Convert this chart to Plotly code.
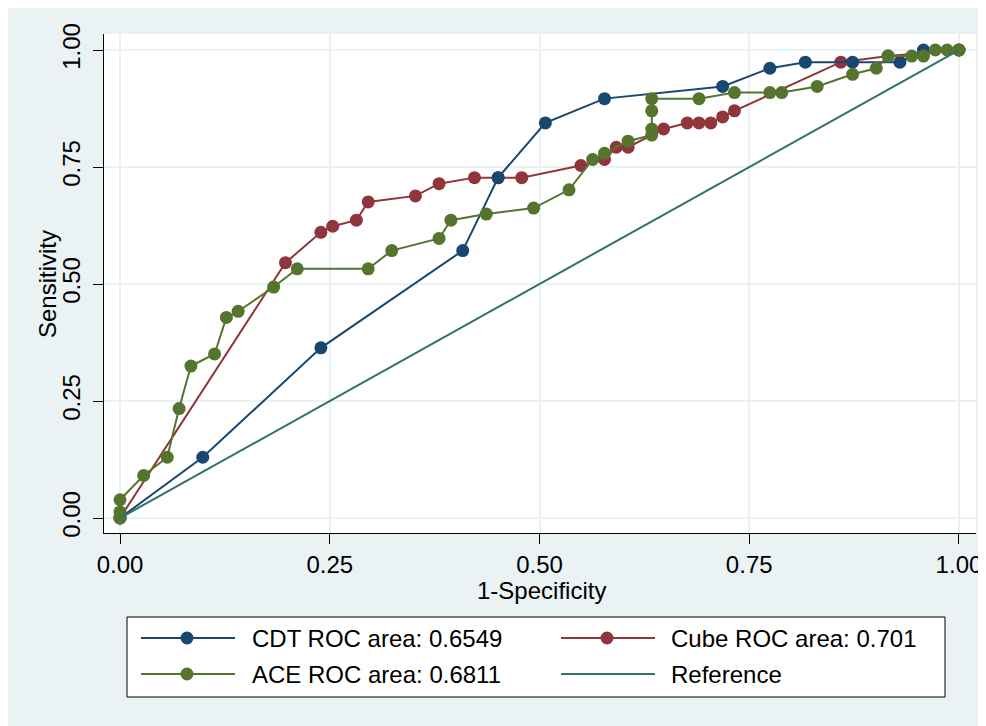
import plotly.graph_objects as go

# ---- data ----
cdt_x = [0, 0.0986, 0.2394, 0.4085, 0.4507, 0.5070, 0.5775, 0.7183, 0.7746, 0.8169, 0.8732, 0.9296, 0.9577, 1]
cdt_y = [0, 0.1299, 0.3636, 0.5714, 0.7273, 0.8442, 0.8961, 0.9221, 0.9610, 0.9740, 0.9740, 0.9740, 1.0, 1]

cube_x = [0, 0.1972, 0.2394, 0.2535, 0.2817, 0.2958, 0.3521, 0.3803, 0.4225, 0.4507, 0.4789, 0.5493,
          0.5775, 0.5915, 0.6056, 0.6479, 0.6761, 0.6901, 0.7042, 0.7183, 0.7324, 0.8592, 0.9155, 1]
cube_y = [0, 0.5455, 0.6104, 0.6234, 0.6364, 0.6753, 0.6883, 0.7143, 0.7273, 0.7273, 0.7273, 0.7532,
          0.7662, 0.7922, 0.7922, 0.8312, 0.8442, 0.8442, 0.8442, 0.8571, 0.8701, 0.9740, 0.9870, 1]

ace_x = [0, 0, 0, 0.0282, 0.0563, 0.0704, 0.0845, 0.1127, 0.1268, 0.1408, 0.1831, 0.2113, 0.2958,
         0.3239, 0.3803, 0.3944, 0.4366, 0.4930, 0.5352, 0.5634, 0.5775, 0.6056, 0.6338, 0.6338,
         0.6338, 0.6338, 0.6901, 0.7324, 0.7746, 0.7887, 0.8310, 0.8732, 0.9014, 0.9155, 0.9437,
         0.9577, 0.9718, 0.9859, 1]
ace_y = [0, 0.0130, 0.0390, 0.0909, 0.1299, 0.2338, 0.3247, 0.3506, 0.4286, 0.4416, 0.4935, 0.5325,
         0.5325, 0.5714, 0.5974, 0.6364, 0.6494, 0.6623, 0.7013, 0.7662, 0.7792, 0.8052, 0.8182,
         0.8312, 0.8701, 0.8961, 0.8961, 0.9091, 0.9091, 0.9091, 0.9221, 0.9481, 0.9610, 0.9870,
         0.9870, 0.9870, 1, 1, 1]

ref_x = [0, 1]
ref_y = [0, 1]

tick_vals = [0, 0.25, 0.5, 0.75, 1]
tick_text = ["0.00", "0.25", "0.50", "0.75", "1.00"]

x_title = "1-Specificity"
y_title = "Sensitivity"
legend_labels = ["CDT ROC area: 0.6549", "Cube ROC area: 0.701", "ACE ROC area: 0.6811", "Reference"]

# ---- styles ----
C_CDT = "#1A476F"
C_CUBE = "#90353B"
C_ACE = "#55752F"
C_REF = "#2E7267"
BG = "#EAF2F3"
FONT = "Liberation Sans, Arial, sans-serif"

W, H = 986, 726
ML, MR, MT, MB = 96, 18, 26, 201
PW, PH = W - ML - MR, H - MT - MB


def px(xpix):
    return (xpix - ML) / PW


def py(ypix):
    return 1 - (ypix - MT) / PH


fig = go.Figure()

fig.add_trace(go.Scatter(x=cube_x, y=cube_y, mode="lines+markers", name=legend_labels[1],
                         line=dict(color=C_CUBE, width=2), marker=dict(size=13, color=C_CUBE),
                         showlegend=False))
fig.add_trace(go.Scatter(x=cdt_x, y=cdt_y, mode="lines+markers", name=legend_labels[0],
                         line=dict(color=C_CDT, width=2), marker=dict(size=13, color=C_CDT),
                         showlegend=False))
fig.add_trace(go.Scatter(x=ace_x, y=ace_y, mode="lines+markers", name=legend_labels[2],
                         line=dict(color=C_ACE, width=2), marker=dict(size=13, color=C_ACE),
                         showlegend=False))
fig.add_trace(go.Scatter(x=ref_x, y=ref_y, mode="lines", name=legend_labels[3],
                         line=dict(color=C_REF, width=2), showlegend=False))

shapes = []
annotations = []

# legend box (drawn by hand to get Stata-style long symbol lines)
shapes.append(dict(type="rect", xref="paper", yref="paper", x0=px(119), x1=px(937), y0=py(609), y1=py(689),
                   fillcolor="white", line=dict(color="black", width=1)))

entries = [
    (legend_labels[0], C_CDT, True, 133, 227, 179, 242, 630),
    (legend_labels[1], C_CUBE, True, 553, 647, 599, 661, 630),
    (legend_labels[2], C_ACE, True, 133, 227, 179, 242, 666),
    (legend_labels[3], C_REF, False, 553, 647, 599, 661, 666),
]
for label, col, mk, lx0, lx1, mx, tx, yy in entries:
    shapes.append(dict(type="line", xref="paper", yref="paper", x0=px(lx0), x1=px(lx1), y0=py(yy), y1=py(yy),
                       line=dict(color=col, width=2)))
    if mk:
        shapes.append(dict(type="circle", xref="paper", yref="paper", x0=px(mx - 6.5), x1=px(mx + 6.5),
                           y0=py(yy - 6.5), y1=py(yy + 6.5), fillcolor=col, line=dict(width=0)))
    annotations.append(dict(text=label, xref="paper", yref="paper", x=px(tx), y=py(yy), xanchor="left",
                            yanchor="middle", showarrow=False, font=dict(size=24, color="black", family=FONT)))

# axis titles
annotations.append(dict(text=x_title, xref="paper", yref="paper", x=px(533), y=py(582), xanchor="center",
                        yanchor="middle", showarrow=False, font=dict(size=24, color="black", family=FONT)))
annotations.append(dict(text=y_title, xref="paper", yref="paper", x=px(39), y=py(276), xanchor="center",
                        yanchor="middle", textangle=-90, showarrow=False,
                        font=dict(size=24, color="black", family=FONT)))

axis_common = dict(
    tickvals=tick_vals, ticktext=tick_text, showline=True, linecolor="black", linewidth=1,
    ticks="outside", ticklen=10, tickcolor="black", tickwidth=1, showgrid=True, gridcolor=BG,
    gridwidth=2, zeroline=False, mirror=False, tickfont=dict(size=24, color="black", family=FONT),
)

fig.update_layout(
    width=W, height=H,
    margin=dict(l=ML, r=MR, t=MT, b=MB),
    paper_bgcolor=BG, plot_bgcolor="white",
    font=dict(family=FONT, size=24, color="black"),
    xaxis=dict(range=[-0.0191, 1.0203], **axis_common),
    yaxis=dict(range=[-0.032, 1.0342], tickangle=-90, ticklabelstandoff=3, **axis_common),
    shapes=shapes, annotations=annotations,
    showlegend=False,
)

fig.write_html("out.html")
